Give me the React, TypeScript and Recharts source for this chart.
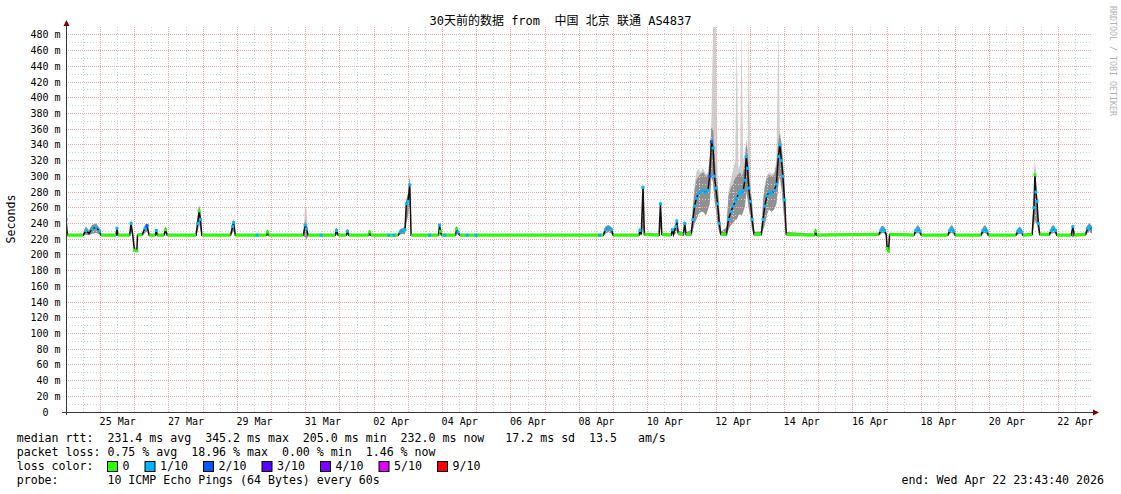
import { ComposedChart, XAxis, YAxis, Area, Line, ReferenceLine } from 'recharts';

// time axis: days since 24 Mar 00:00, window ends Wed Apr 22 23:43:40
const tStart = -0.0113;
const tEnd = 29.9887;

const dayLabels = ['25 Mar', '27 Mar', '29 Mar', '31 Mar', '02 Apr', '04 Apr', '06 Apr', '08 Apr',
  '10 Apr', '12 Apr', '14 Apr', '16 Apr', '18 Apr', '20 Apr', '22 Apr'];
const dayLabelAt = [1.5, 3.5, 5.5, 7.5, 9.5, 11.5, 13.5, 15.5, 17.5, 19.5, 21.5, 23.5, 25.5, 27.5, 29.5];
const yTicks = [0, 20, 40, 60, 80, 100, 120, 140, 160, 180, 200, 220, 240, 260, 280, 300,
  320, 340, 360, 380, 400, 420, 440, 460, 480];

const lossColors = ['#26ff00', '#00b8ff', '#0059ff', '#5e00ff', '#7e00ff', '#dd00ff', '#ff0000'];
const lossLabels = ['0', '1/10', '2/10', '3/10', '4/10', '5/10', '9/10'];

// [day, median ms, smoke low, smoke high, smoke peak, loss bucket]
type Row = [number, number, number, number, number, number];

const rttMarch: Row[] = [
  [-0.01, 245, 226, 250, 250, 1],
  [0.03, 225, 224, 227, 227, 0],
  [0.49, 225, 224, 227, 227, 0],
  [0.57, 231, 226, 236, 236, 1],
  [0.66, 227, 225, 231, 231, 0],
  [0.75, 233, 227, 238, 238, 1],
  [0.87, 235, 228, 240, 240, 1],
  [0.97, 230, 226, 234, 234, 1],
  [1.01, 225, 224, 227, 227, 0],
  [1.45, 225, 224, 227, 227, 0],
  [1.48, 234, 226, 236, 236, 1],
  [1.51, 225, 224, 227, 227, 0],
  [1.85, 225, 224, 227, 227, 0],
  [1.89, 240, 230, 246, 246, 1],
  [1.94, 225, 224, 227, 227, 0],
  [1.99, 206, 204, 209, 209, 0],
  [2.06, 205, 204, 207, 207, 0],
  [2.08, 225, 224, 227, 227, 0],
  [2.22, 226, 224, 228, 228, 0],
  [2.30, 234, 228, 238, 238, 1],
  [2.36, 237, 230, 240, 240, 2],
  [2.42, 225, 224, 227, 227, 0],
  [2.60, 225, 224, 227, 227, 0],
  [2.63, 231, 226, 233, 233, 1],
  [2.66, 225, 224, 227, 227, 0],
  [2.85, 225, 224, 227, 227, 0],
  [2.90, 232, 227, 236, 236, 0],
  [2.95, 225, 224, 227, 227, 0],
  [3.79, 225, 224, 227, 227, 0],
  [3.84, 240, 230, 248, 248, 1],
  [3.88, 256, 240, 263, 263, 0],
  [3.92, 245, 232, 255, 255, 1],
  [3.96, 225, 224, 227, 227, 0],
  [4.80, 225, 224, 227, 227, 0],
  [4.86, 236, 228, 242, 242, 1],
  [4.89, 241, 230, 245, 245, 1],
  [4.94, 225, 224, 227, 227, 0],
  [5.58, 225, 224, 227, 227, 1],
  [5.85, 225, 224, 227, 227, 0],
  [5.88, 229, 225, 233, 233, 0],
  [5.91, 225, 224, 227, 227, 0],
  [6.93, 225, 224, 227, 227, 0],
  [6.98, 238, 222, 245, 262, 1],
  [7.02, 233, 220, 240, 258, 1],
  [7.07, 225, 224, 227, 227, 0],
  [7.45, 225, 224, 227, 227, 1],
  [7.86, 225, 224, 227, 227, 0],
  [7.90, 231, 226, 234, 234, 1],
  [7.95, 225, 224, 227, 227, 0],
];

const rttAprilEarly: Row[] = [
  [8.18, 225, 224, 227, 227, 0],
  [8.22, 230, 226, 232, 232, 1],
  [8.26, 225, 224, 227, 227, 0],
  [8.84, 225, 224, 227, 227, 0],
  [8.87, 229, 225, 231, 231, 0],
  [8.90, 225, 224, 227, 227, 0],
  [9.43, 225, 224, 227, 227, 1],
  [9.58, 225, 224, 227, 227, 1],
  [9.70, 225, 224, 227, 227, 0],
  [9.76, 229, 226, 233, 233, 1],
  [9.84, 231, 227, 234, 234, 1],
  [9.90, 232, 226, 236, 236, 1],
  [9.94, 265, 240, 270, 270, 1],
  [9.99, 268, 250, 278, 278, 1],
  [10.04, 289, 265, 300, 304, 1],
  [10.08, 225, 224, 227, 227, 0],
  [10.62, 225, 224, 227, 227, 1],
  [10.88, 225, 224, 227, 227, 0],
  [10.91, 238, 228, 240, 240, 1],
  [10.94, 230, 226, 232, 232, 0],
  [10.97, 225, 224, 227, 227, 0],
  [11.06, 225, 224, 227, 227, 1],
  [11.38, 225, 224, 227, 227, 0],
  [11.41, 233, 227, 235, 235, 0],
  [11.45, 229, 226, 231, 231, 1],
  [11.50, 225, 224, 227, 227, 0],
  [11.72, 225, 224, 227, 227, 1],
  [11.98, 225, 224, 227, 227, 1],
  [15.59, 225, 224, 227, 227, 1],
  [15.70, 225, 224, 227, 227, 0],
  [15.76, 232, 227, 236, 236, 1],
  [15.85, 235, 229, 238, 238, 1],
  [15.94, 232, 227, 235, 235, 1],
  [15.99, 225, 224, 227, 227, 0],
  [16.74, 225, 224, 227, 227, 0],
  [16.77, 231, 227, 233, 233, 1],
  [16.81, 226, 224, 228, 228, 0],
  [16.86, 286, 235, 292, 292, 1],
  [16.90, 226, 224, 228, 228, 0],
  [17.33, 225, 224, 227, 227, 0],
  [17.37, 265, 235, 270, 272, 1],
  [17.41, 226, 224, 228, 228, 0],
  [17.68, 225, 224, 227, 227, 0],
  [17.72, 232, 227, 234, 234, 1],
  [17.75, 226, 224, 228, 228, 0],
  [17.82, 236, 228, 240, 240, 1],
  [17.85, 243, 232, 248, 248, 1],
  [17.89, 228, 225, 231, 231, 0],
  [18.04, 226, 224, 228, 228, 0],
  [18.08, 240, 232, 245, 245, 1],
  [18.12, 226, 224, 228, 228, 0],
  [18.27, 227, 224, 232, 232, 0],
];

// 10 Apr - 13 Apr congestion
const rttAprilOutage: Row[] = [
  [18.32, 245, 232, 262, 265, 1],
  [18.37, 262, 240, 282, 290, 1],
  [18.42, 272, 245, 295, 305, 1],
  [18.48, 278, 252, 300, 310, 1],
  [18.55, 280, 255, 303, 305, 1],
  [18.62, 282, 255, 305, 310, 1],
  [18.70, 279, 250, 300, 302, 1],
  [18.76, 282, 258, 302, 305, 1],
  [18.81, 300, 265, 320, 325, 2],
  [18.86, 344, 300, 362, 368, 2],
  [18.91, 336, 292, 360, 490, 1],
  [18.95, 300, 270, 330, 490, 1],
  [18.99, 285, 258, 305, 490, 1],
  [19.04, 265, 240, 290, 300, 1],
  [19.09, 240, 228, 258, 260, 1],
  [19.14, 226, 224, 229, 229, 0],
  [19.30, 226, 224, 235, 235, 0],
  [19.36, 245, 232, 275, 280, 1],
  [19.43, 255, 238, 285, 295, 1],
  [19.50, 262, 240, 292, 310, 1],
  [19.56, 268, 245, 298, 320, 1],
  [19.60, 272, 245, 300, 490, 1],
  [19.65, 278, 250, 303, 310, 1],
  [19.70, 280, 252, 305, 315, 1],
  [19.74, 278, 250, 300, 490, 1],
  [19.79, 282, 255, 305, 320, 1],
  [19.84, 295, 262, 318, 330, 1],
  [19.88, 325, 280, 342, 348, 1],
  [19.92, 310, 270, 330, 335, 1],
  [19.95, 285, 260, 305, 490, 1],
  [20.00, 268, 248, 285, 290, 1],
  [20.05, 245, 232, 265, 268, 1],
  [20.11, 226, 224, 229, 229, 0],
  [20.32, 226, 224, 230, 230, 0],
  [20.37, 245, 232, 268, 272, 1],
  [20.42, 262, 238, 285, 290, 1],
  [20.48, 275, 250, 298, 300, 1],
  [20.54, 280, 258, 302, 305, 1],
  [20.62, 278, 255, 300, 303, 1],
  [20.70, 282, 258, 302, 305, 1],
  [20.76, 290, 265, 315, 320, 1],
  [20.82, 325, 290, 345, 490, 1],
  [20.86, 340, 300, 355, 358, 1],
  [20.91, 320, 285, 340, 345, 1],
  [20.95, 300, 265, 320, 322, 1],
  [21.00, 270, 240, 290, 292, 1],
  [21.05, 226, 224, 229, 229, 0],
];

const rttAprilLate: Row[] = [
  [21.88, 225, 224, 227, 227, 0],
  [21.91, 230, 226, 232, 232, 0],
  [21.94, 225, 224, 227, 227, 0],
  [23.75, 226, 224, 228, 228, 0],
  [23.82, 231, 227, 236, 236, 1],
  [23.88, 233, 228, 237, 237, 1],
  [23.93, 231, 227, 234, 234, 1],
  [23.97, 226, 224, 228, 228, 0],
  [24.00, 208, 205, 212, 212, 0],
  [24.04, 205, 204, 208, 208, 0],
  [24.07, 226, 224, 228, 228, 0],
  [24.78, 225, 224, 227, 227, 0],
  [24.84, 231, 227, 235, 235, 1],
  [24.90, 233, 228, 238, 238, 1],
  [24.96, 230, 226, 234, 234, 1],
  [25.00, 225, 224, 227, 227, 0],
  [25.77, 225, 224, 227, 227, 0],
  [25.83, 231, 227, 235, 235, 1],
  [25.89, 233, 228, 238, 238, 1],
  [25.95, 230, 226, 234, 234, 1],
  [25.99, 225, 224, 227, 227, 0],
  [26.74, 225, 224, 227, 227, 0],
  [26.80, 231, 227, 235, 235, 1],
  [26.86, 233, 228, 238, 238, 1],
  [26.92, 230, 226, 234, 234, 1],
  [26.96, 225, 224, 227, 227, 0],
  [27.76, 225, 224, 227, 227, 0],
  [27.82, 230, 226, 234, 234, 1],
  [27.88, 232, 227, 236, 236, 1],
  [27.94, 229, 226, 232, 232, 1],
  [27.97, 225, 224, 227, 227, 0],
  [28.24, 226, 224, 228, 228, 0],
  [28.29, 260, 238, 275, 280, 1],
  [28.32, 302, 245, 318, 325, 0],
  [28.35, 280, 240, 290, 292, 1],
  [28.38, 268, 240, 275, 275, 1],
  [28.42, 240, 230, 245, 245, 1],
  [28.46, 226, 224, 228, 228, 0],
  [28.74, 226, 224, 228, 228, 0],
  [28.80, 231, 227, 235, 235, 1],
  [28.86, 234, 228, 238, 238, 1],
  [28.92, 231, 227, 234, 234, 1],
  [28.96, 225, 224, 227, 227, 0],
  [29.38, 225, 224, 227, 227, 0],
  [29.43, 236, 222, 238, 238, 1],
  [29.47, 225, 224, 227, 227, 0],
  [29.80, 226, 224, 228, 228, 0],
  [29.86, 234, 228, 238, 238, 1],
  [29.92, 236, 229, 240, 240, 1],
  [29.99, 232, 227, 236, 236, 1],
];

const legendRtt = 'median rtt:  231.4 ms avg  345.2 ms max  205.0 ms min  232.0 ms now   17.2 ms sd  13.5   am/s';
const legendLoss = 'packet loss: 0.75 % avg  18.96 % max  0.00 % min  1.46 % now';
const legendProbe = 'probe:       10 ICMP Echo Pings (64 Bytes) every 60s';
const legendEnd = 'end: Wed Apr 22 23:43:40 2026';
const title = '30天前的数据 from  中国 北京 联通 AS4837';

const MONO = "'DejaVu Sans Mono', monospace";
const BASE = 225;

const samples = [...rttMarch, ...rttAprilEarly, ...rttAprilOutage, ...rttAprilLate];
const rows = samples.map(([t, med, lo, hi, pk, loss]) => ({
  t,
  median: med,
  loss,
  smoke: [lo, hi],
  peak: [lo, pk],
  base: Math.abs(med - BASE) <= 3 ? med : null,
}));

// grid positions
const yMajor = yTicks.filter(v => v > 0);
const yMinor = yTicks.slice(0, -1).map(v => v + 10);
const xMajor = Array.from({ length: 29 }, (_, i) => i + 1);
const xMinor = Array.from({ length: 30 }, (_, i) => i + 0.5);

const LossDot = (props: any) => {
  const { cx, cy, payload, index } = props;
  if (cx == null || cy == null) return <g key={index} />;
  const off = Math.abs(payload.median - BASE) > 3;
  if (!off && payload.loss === 0) return <g key={index} />;
  return <rect key={index} x={cx - 1.5} y={cy - 1.5} width={3} height={3} fill={lossColors[payload.loss]} />;
};

const XTick = (props: any) => {
  const { x, payload, index } = props;
  return (
    <text x={x} y={425} textAnchor="middle" fontSize={10} fontFamily={MONO} fill="#000">
      {dayLabels[index] ?? payload.value}
    </text>
  );
};

const YTick = (props: any) => {
  const { y, payload } = props;
  const v = payload.value;
  return (
    <text x={v === 0 ? 48.5 : 60.5} y={y + 3.5} textAnchor="end" fontSize={10} fontFamily={MONO} fill="#000">
      {v === 0 ? '0' : `${v} m`}
    </text>
  );
};

export default function App() {
  let boxX = 107.5;
  const boxes = lossLabels.map((lab, i) => {
    const x = boxX;
    boxX = x + 15 + lab.length * 7 + 15.5;
    return (
      <g key={lab}>
        <rect x={x} y={461.5} width={10} height={10} fill={lossColors[i]} stroke="#000" strokeWidth={1} />
        <text x={x + 15} y={470} fontSize={11.6} fontFamily={MONO} fill="#000">{lab}</text>
      </g>
    );
  });

  return (
    <div style={{ position: 'absolute', left: 0, top: 0, width: 1121, height: 494, background: '#fff' }}>
      <ComposedChart
        width={1121}
        height={494}
        data={rows}
        margin={{ top: 27, right: 29, bottom: 52, left: 0 }}
      >
        <XAxis
          dataKey="t"
          type="number"
          domain={[tStart, tEnd]}
          allowDataOverflow
          ticks={dayLabelAt}
          tick={XTick}
          axisLine={false}
          tickLine={false}
          height={30}
          interval={0}
        />
        <YAxis
          type="number"
          domain={[0, 490]}
          allowDataOverflow
          ticks={yTicks}
          tick={YTick}
          axisLine={false}
          tickLine={false}
          width={66}
          interval={0}
        />
        {yMinor.map(v => (
          <ReferenceLine key={'ym' + v} y={v} stroke="#d2d2d2" strokeDasharray="1 2" shapeRendering="crispEdges" />
        ))}
        {xMinor.map(v => (
          <ReferenceLine key={'xm' + v} x={v} stroke="#d2d2d2" strokeDasharray="1 2" shapeRendering="crispEdges" />
        ))}
        {yMajor.map(v => (
          <ReferenceLine key={'yM' + v} y={v} stroke="#f5a8a8" strokeDasharray="1 1" shapeRendering="crispEdges" />
        ))}
        {xMajor.map(v => (
          <ReferenceLine key={'xM' + v} x={v} stroke="#f5a8a8" strokeDasharray="1 1" shapeRendering="crispEdges" />
        ))}
        <Area dataKey="peak" type="linear" stroke="none" fill="#c6c6c6" fillOpacity={0.85} isAnimationActive={false} activeDot={false} />
        <Area dataKey="smoke" type="linear" stroke="none" fill="#8a8a8a" fillOpacity={0.9} isAnimationActive={false} activeDot={false} />
        <Line dataKey="median" type="linear" stroke="#111" strokeWidth={1.5} dot={false} activeDot={false} isAnimationActive={false} />
        <Line dataKey="base" type="linear" stroke={lossColors[0]} strokeWidth={3} dot={false} activeDot={false} isAnimationActive={false} />
        <Line dataKey="median" type="linear" stroke="none" dot={LossDot} activeDot={false} isAnimationActive={false} />
      </ComposedChart>

      <svg width={1121} height={494} style={{ position: 'absolute', left: 0, top: 0, pointerEvents: 'none' }}>
        <text x={560.5} y={25} textAnchor="middle" fontSize={12} fontFamily="'DejaVu Sans Mono', 'Noto Sans CJK SC', monospace" fill="#000" xmlSpace="preserve">
          {title}
        </text>
        <text x={15} y={219} transform="rotate(-90 15 219)" textAnchor="middle" fontSize={11.6} fontFamily={MONO} fill="#000">
          Seconds
        </text>
        <text x={1110} y={61} transform="rotate(90 1110 61)" textAnchor="middle" fontSize={8.3} fontFamily={MONO} fill="#b4b4b4">
          RRDTOOL / TOBI OETIKER
        </text>

        {/* axes */}
        <line x1={66.5} y1={24} x2={66.5} y2={415} stroke="#3a3434" strokeWidth={1} />
        <line x1={62} y1={412.5} x2={1094} y2={412.5} stroke="#3a3434" strokeWidth={1} />
        <polygon points="63.5,26 69.5,26 66.5,20" fill="#7f0000" />
        <polygon points="1093,409.5 1093,415.5 1099,412.5" fill="#7f0000" />

        {/* legend */}
        <text x={16.7} y={442} fontSize={11.6} fontFamily={MONO} fill="#000" xmlSpace="preserve">{legendRtt}</text>
        <text x={16.7} y={456} fontSize={11.6} fontFamily={MONO} fill="#000" xmlSpace="preserve">{legendLoss}</text>
        <text x={16.7} y={470} fontSize={11.6} fontFamily={MONO} fill="#000" xmlSpace="preserve">loss color:</text>
        {boxes}
        <text x={16.7} y={484} fontSize={11.6} fontFamily={MONO} fill="#000" xmlSpace="preserve">{legendProbe}</text>
        <text x={1104} y={484} textAnchor="end" fontSize={11.6} fontFamily={MONO} fill="#000" xmlSpace="preserve">{legendEnd}</text>
      </svg>
    </div>
  );
}
